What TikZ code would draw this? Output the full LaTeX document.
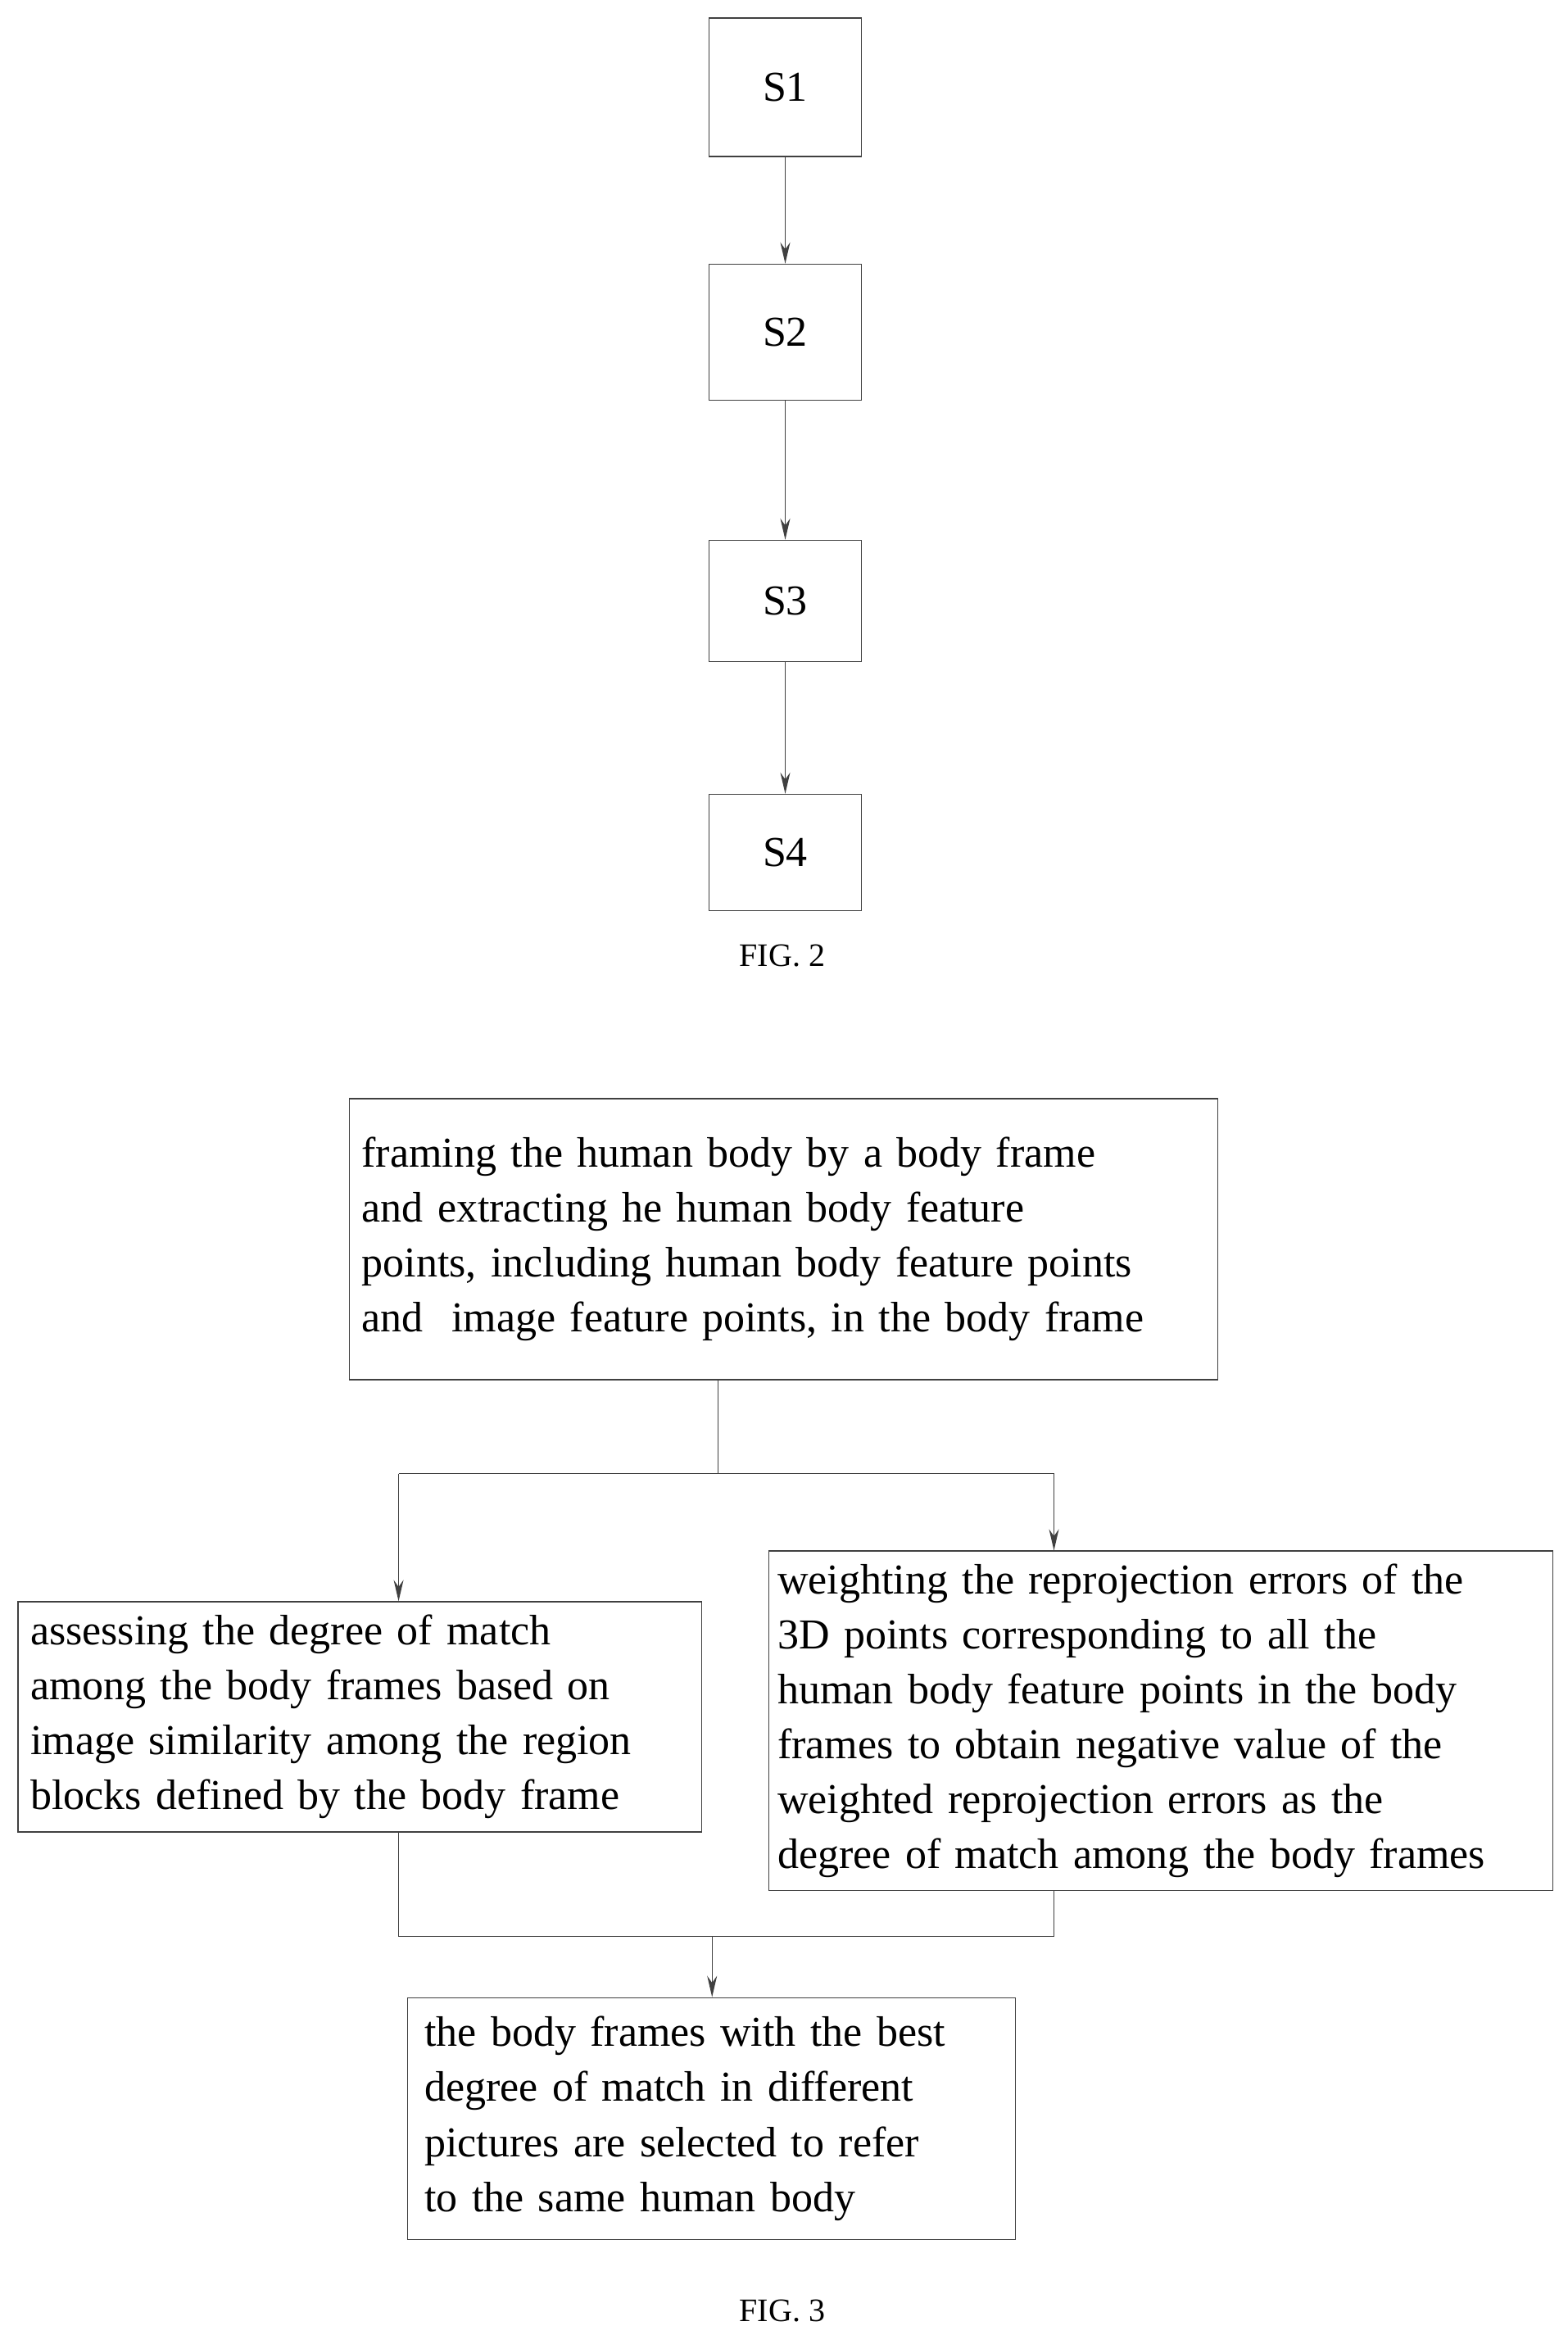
\documentclass[tikz,border=0pt]{standalone}
\usepackage{fontspec}
\setmainfont{Liberation Serif}
\usetikzlibrary{arrows.meta}
\begin{document}
\begin{tikzpicture}[x=1.822pt,y=-1.822pt,
  box/.style={draw=black!75,line width=1.3pt,inner sep=14pt,font=\fontsize{52}{67}\selectfont},
  tbox/.style={box,align=left},
  fig/.style={font=\fontsize{40}{48}\selectfont},
  arr/.style={line width=1.3pt,draw=black!75,-{Stealth[length=26pt,width=12pt]}},
  ln/.style={line width=1.3pt,draw=black!75}]
\useasboundingbox (0,0) rectangle (1050,1564);
\node[box,minimum width=186pt,minimum height=169pt] (s1) at (526,58.5) {S1};
\node[box,minimum width=186pt,minimum height=166pt] (s2) at (526,222.5) {S2};
\node[box,minimum width=186pt,minimum height=148pt] (s3) at (526,402.5) {S3};
\node[box,minimum width=186pt,minimum height=142pt] (s4) at (526,571) {S4};
\node[fig] (f2) at (524,640) {FIG. 2};
\draw[arr] (s1) -- (s2);
\draw[arr] (s2) -- (s3);
\draw[arr] (s3) -- (s4);

\node[tbox,minimum width=1060pt,minimum height=343pt,text width=1030pt] (top) at (525,830) {framing the human body by a body frame\\and extracting he human body feature\\points, including human body feature points\\and\ \ image feature points, in the body frame};
\node[tbox,minimum width=834pt,minimum height=281pt,text width=804pt] (left) at (241,1150) {assessing the degree of match\\among the body frames based on\\image similarity among the region\\blocks defined by the body frame};
\node[tbox,minimum width=957pt,minimum height=414pt,text width=935pt,inner sep=5pt] (right) at (777.5,1152.5) {weighting the reprojection errors of the\\3D points corresponding to all the\\human body feature points in the body\\frames to obtain negative value of the\\weighted reprojection errors as the\\degree of match among the body frames};
\node[tbox,minimum width=742pt,minimum height=295pt,text width=700pt,inner sep=20pt] (bot) at (476.5,1419) {the body frames with the best\\degree of match in different\\pictures are selected to refer\\to the same human body};
\node[fig] (f3) at (524,1548) {FIG. 3};

\coordinate (j) at (481,987);
\coordinate (jl) at (267,987);
\coordinate (jr) at (706,987);
\draw[ln] (top.south -| j) -- (j);
\draw[ln] (jl) -- (jr);
\draw[arr] (jl) -- (left.north -| jl);
\draw[arr] (jr) -- (right.north -| jr);
\coordinate (ml) at (267,1297);
\coordinate (mr) at (706,1297);
\coordinate (m) at (477,1297);
\draw[ln] (left.south -| ml) -- (ml) -- (mr) -- (right.south -| mr);
\draw[arr] (m) -- (bot.north -| m);
\end{tikzpicture}
\end{document}
